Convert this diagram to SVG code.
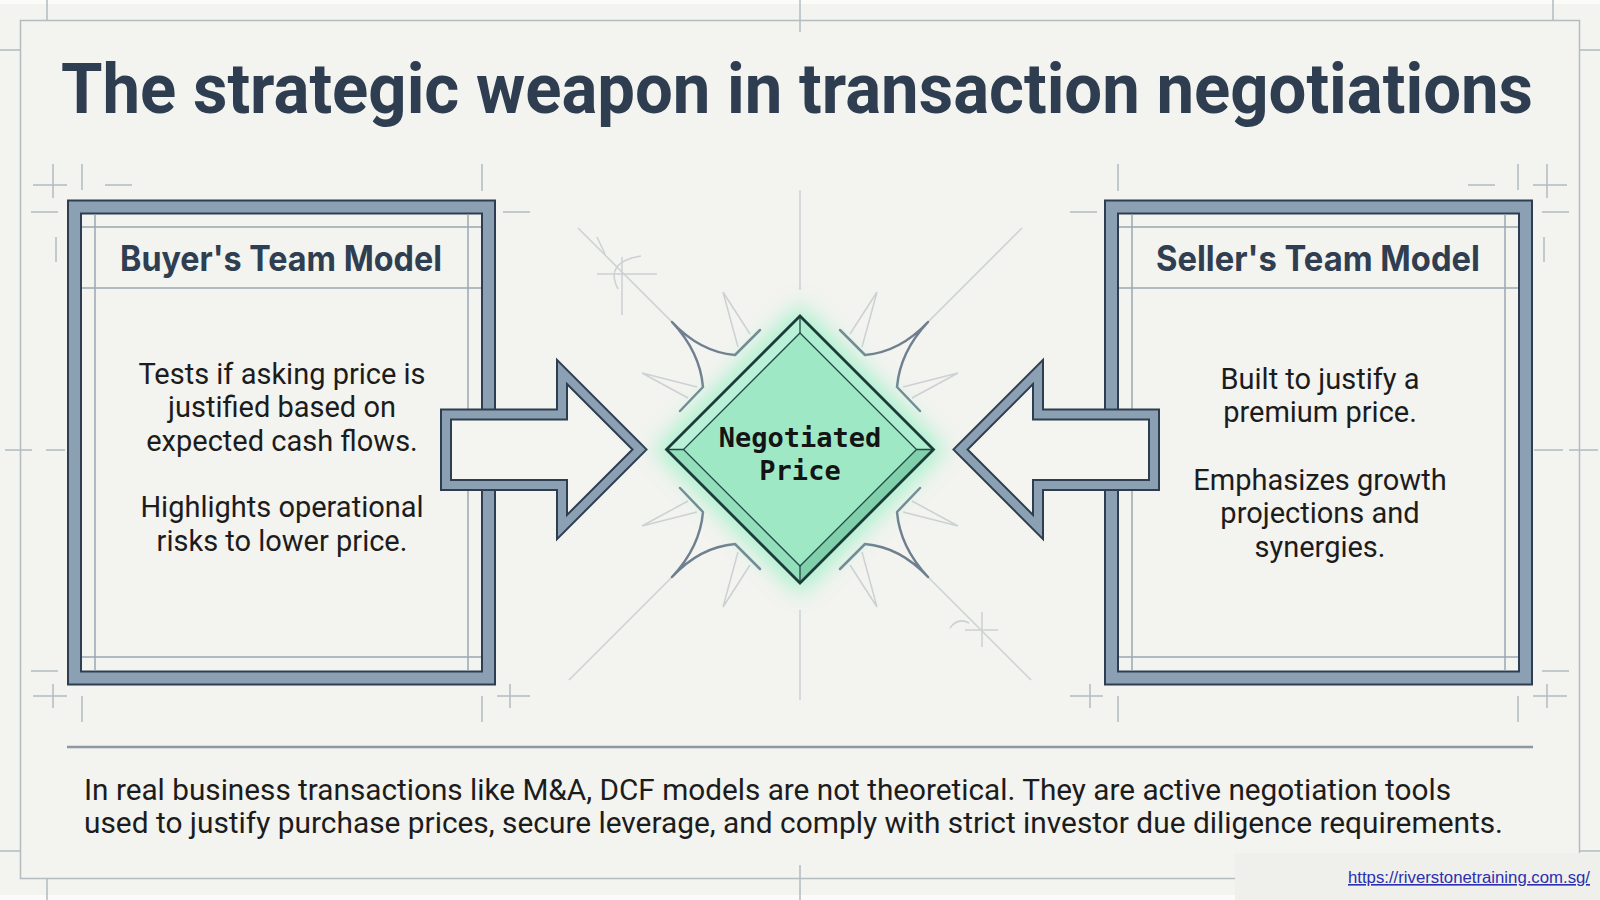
<svg xmlns="http://www.w3.org/2000/svg" width="1600" height="900" viewBox="0 0 1600 900">
<defs>
<style>
.guide{stroke:#b3bcc1;stroke-width:1.5;fill:none}
.faint{stroke:#ccd1d4;stroke-width:1.5;fill:none}
.thin{stroke:#9ba8b2;stroke-width:1.5;fill:none}
.bd-dark{fill:none;stroke:#2e3e50;stroke-width:15}
.bd-mid{fill:none;stroke:#8ba1b3;stroke-width:11}
.ar-dark{fill:#f4f4f0;stroke:#2e3e50;stroke-width:12;stroke-linejoin:miter;stroke-miterlimit:6}
.ar-mid{fill:none;stroke:#8ba1b3;stroke-width:8;stroke-linejoin:miter;stroke-miterlimit:6}
.title{font-family:Roboto,"Noto Sans",sans-serif;font-weight:700;font-size:70px;fill:#2e3d4f}
.hdr{font-family:Inter,"Noto Sans",sans-serif;font-weight:700;font-size:35px;fill:#2f3e50;text-anchor:middle}
.body{font-family:Roboto,"Noto Sans",sans-serif;font-size:29px;fill:#1c1c1c;text-anchor:middle}
.foot{font-family:Roboto,"Noto Sans",sans-serif;font-size:29px;fill:#1c1c1c}
.mono{font-family:"DejaVu Sans Mono","Liberation Mono",monospace;font-weight:700;font-size:27px;fill:#141414;text-anchor:middle}
.spike{fill:none;stroke:#6e7f8f;stroke-width:2.5;stroke-linejoin:round;stroke-linecap:round}
</style>
<filter id="glow" x="-50%" y="-50%" width="200%" height="200%"><feGaussianBlur stdDeviation="11"/></filter>
</defs>

<rect x="0" y="0" width="1600" height="900" fill="#f3f3ef"/>
<rect x="0" y="0" width="1600" height="4" fill="#fbfbfa"/>
<rect x="0" y="895" width="1600" height="5" fill="#fbfbfa"/>

<g id="frame">
  <rect class="guide" x="20.5" y="20.5" width="1559" height="858"/>
  <path class="guide" d="M47,0V20 M1553,0V20 M800,0V32 M0,50H20 M1580,50H1600 M0,851H20 M1580,851H1600 M47,879V900 M800,865V900 M1553,879V900"/>
  <path class="guide" d="M5,450H32 M46,450H65 M1534,450H1563 M1569,450H1598"/>
  <path class="guide" d="M33,185H67 M53,164V198 M82,164V190 M105,185H132 M482,164V191 M31,212H58 M56,237V262 M503,212H530 M31,671H58 M33,696H67 M53,684V708 M82,696V722 M497,696H530 M510,684V708 M482,696V722"/>
  <path class="guide" d="M1533,185H1567 M1547,164V198 M1518,164V190 M1468,185H1495 M1118,164V191 M1542,212H1569 M1544,237V262 M1070,212H1097 M1542,671H1569 M1533,696H1567 M1547,684V708 M1518,696V722 M1070,696H1103 M1090,684V708 M1118,696V722"/>
</g>

<g id="title">
  <text class="title" x="61" y="113" textLength="1472" lengthAdjust="spacingAndGlyphs">The strategic weapon in transaction negotiations</text>
</g>

<g id="center-guides">
  <path class="faint" d="M800,190V290 M800,610V700 M578,228L672,322 M1022,228L928,322 M569,680L672,577 M1031,680L928,577"/>
  <path class="faint" d="M597,274H657 M622,257V315 M641,256Q604,262 618,289 M597,237L605,254 M965,630H998 M982,612V647 M950,628Q958,617 969,623"/>
</g>

<g id="node-buyer">
  <rect class="bd-dark" x="74.5" y="207" width="414" height="471"/>
  <rect class="bd-mid" x="74.5" y="207" width="414" height="471"/>
  <path class="thin" d="M95,214.5V670.5 M468,214.5V670.5 M82,227H481 M82,288H481 M82,657H481"/>
  <text class="hdr" x="281" y="271" textLength="322" lengthAdjust="spacingAndGlyphs">Buyer's Team Model</text>
  <text class="body" x="282" y="384">Tests if asking price is</text>
  <text class="body" x="282" y="417">justified based on</text>
  <text class="body" x="282" y="451">expected cash flows.</text>
  <text class="body" x="282" y="517">Highlights operational</text>
  <text class="body" x="282" y="551">risks to lower price.</text>
</g>

<g id="node-seller">
  <rect class="bd-dark" x="1111.5" y="207" width="414" height="471"/>
  <rect class="bd-mid" x="1111.5" y="207" width="414" height="471"/>
  <path class="thin" d="M1132,214.5V670.5 M1505,214.5V670.5 M1119,227H1518 M1119,288H1518 M1119,657H1518"/>
  <text class="hdr" x="1318" y="271" textLength="324" lengthAdjust="spacingAndGlyphs">Seller's Team Model</text>
  <text class="body" x="1320" y="389">Built to justify a</text>
  <text class="body" x="1320" y="422">premium price.</text>
  <text class="body" x="1320" y="490">Emphasizes growth</text>
  <text class="body" x="1320" y="523">projections and</text>
  <text class="body" x="1320" y="557">synergies.</text>
</g>

<g id="connectors">
  <g id="arrow-buyer">
    <path class="ar-dark" d="M446,414.5H562V372L639.5,449.5L562,527V485H446Z"/>
    <path class="ar-mid" d="M446,414.5H562V372L639.5,449.5L562,527V485H446Z"/>
  </g>
  <g id="arrow-seller" transform="translate(1600,0) scale(-1,1)">
    <path class="ar-dark" d="M446,414.5H562V372L639.5,449.5L562,527V485H446Z"/>
    <path class="ar-mid" d="M446,414.5H562V372L639.5,449.5L562,527V485H446Z"/>
  </g>
</g>

<g id="node-price">
  <g id="burst">
    <g id="burst-ul">
      <path class="faint" d="M723,292L738,347 M723,292L750,334 M642,373L697,387 M642,373L688,398"/>
      <path class="spike" d="M760,330L735,355Q700,352 672,322Q700,352 703,387L680,411"/>
    </g>
    <g transform="translate(1600,0) scale(-1,1)">
      <path class="faint" d="M723,292L738,347 M723,292L750,334 M642,373L697,387 M642,373L688,398"/>
      <path class="spike" d="M760,330L735,355Q700,352 672,322Q700,352 703,387L680,411"/>
    </g>
    <g transform="translate(0,899) scale(1,-1)">
      <path class="faint" d="M723,292L738,347 M723,292L750,334 M642,373L697,387 M642,373L688,398"/>
      <path class="spike" d="M760,330L735,355Q700,352 672,322Q700,352 703,387L680,411"/>
    </g>
    <g transform="translate(1600,899) scale(-1,-1)">
      <path class="faint" d="M723,292L738,347 M723,292L750,334 M642,373L697,387 M642,373L688,398"/>
      <path class="spike" d="M760,330L735,355Q700,352 672,322Q700,352 703,387L680,411"/>
    </g>
  </g>
  <polygon points="800,304 946,449.5 800,595 654,449.5" fill="#8af0c0" opacity="0.7" filter="url(#glow)"/>
  <polygon points="800,316 933.5,449.5 916.5,449.5 800,333" fill="#aeeed0"/>
  <polygon points="666.5,449.5 683.5,449.5 800,566 800,583" fill="#93dfbc"/>
  <polygon points="933.5,449.5 916.5,449.5 800,566 800,583" fill="#7fd0ab"/>
  <polygon points="800,316 666.5,449.5 683.5,449.5 800,333" fill="#b8f1d7"/>
  <polygon points="800,333 916.5,449.5 800,566 683.5,449.5" fill="#9fe8c6" stroke="#244843" stroke-width="1.3"/>
  <path d="M800,316V333 M933.5,449.5H916.5 M800,583V566 M666.5,449.5H683.5" stroke="#244843" stroke-width="1.3"/>
  <polygon points="800,316 933.5,449.5 800,583 666.5,449.5" fill="none" stroke="#1d3a38" stroke-width="2.8" stroke-linejoin="miter"/>
  <text class="mono" x="800" y="446.5">Negotiated</text>
  <text class="mono" x="800" y="480">Price</text>
</g>

<g id="footer">
  <path d="M67,747H1533" stroke="#8c98a1" stroke-width="2.5"/>
  <text class="foot" x="84" y="800" textLength="1367" lengthAdjust="spacingAndGlyphs">In real business transactions like M&amp;A, DCF models are not theoretical. They are active negotiation tools</text>
  <text class="foot" x="84" y="833" textLength="1419" lengthAdjust="spacingAndGlyphs">used to justify purchase prices, secure leverage, and comply with strict investor due diligence requirements.</text>
</g>

<g id="link">
  <rect x="1235" y="853" width="365" height="47" fill="#efefeb"/>
  <text x="1348" y="883" font-family="'Liberation Sans',Arial,sans-serif" font-size="16" fill="#2b2fb0" text-decoration="underline" textLength="242" lengthAdjust="spacingAndGlyphs">https://riverstonetraining.com.sg/</text>
</g>
</svg>
